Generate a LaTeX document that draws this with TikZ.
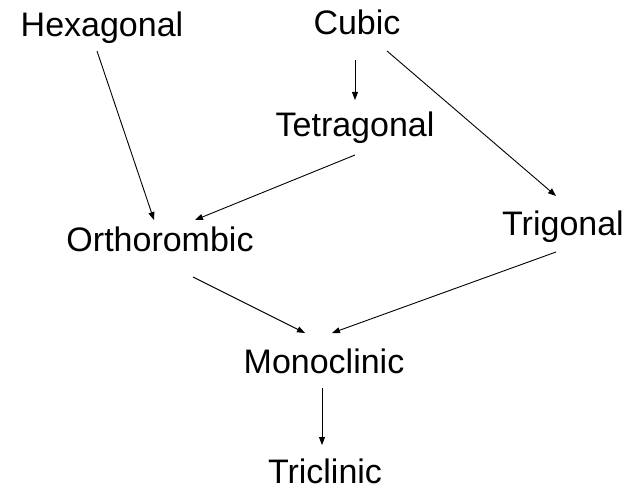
\documentclass[tikz,border=0pt]{standalone}
\usepackage{fontspec}
\setmainfont{Liberation Sans}
\usetikzlibrary{arrows.meta,calc}
\tikzset{
  lbl/.style={anchor=base, inner sep=0pt, font=\fontsize{34}{40}\selectfont},
  conn/.style={line width=0.9pt, -{Triangle[length=8pt,width=6pt]}}
}
\begin{document}
\begin{tikzpicture}[x=1pt,y=-1pt]
\useasboundingbox (0,0) rectangle (634,489);
\node[lbl] (hex) at (102,37) {Hexagonal};
\node[lbl] (cub) at (357,35) {Cubic};
\node[lbl] (tet) at (355,137) {Tetragonal};
\node[lbl] (ort) at (160,251) {Orthorombic};
\node[lbl] (tri) at (563,235) {Trigonal};
\node[lbl] (mon) at (324,373) {Monoclinic};
\node[lbl] (tcl) at (325,483) {Triclinic};
\draw[conn] ($(hex.base)+(-5,14)$) -- ($(ort.base)+(-6,-31)$);
\draw[conn] ($(cub.base)+(-2,25)$) -- ($(tet.base)+(0,-37)$);
\draw[conn] ($(cub.base)+(30,16)$) -- ($(tri.base)+(-7,-39)$);
\draw[conn] ($(tet.base)+(0,18)$) -- ($(ort.base)+(35,-31)$);
\draw[conn] ($(ort.base)+(33,26)$) -- ($(mon.base)+(-19,-40)$);
\draw[conn] ($(tri.base)+(-7,17)$) -- ($(mon.base)+(8,-40)$);
\draw[conn] ($(mon.base)+(-2,15)$) -- ($(tcl.base)+(-3,-38)$);
\end{tikzpicture}
\end{document}
